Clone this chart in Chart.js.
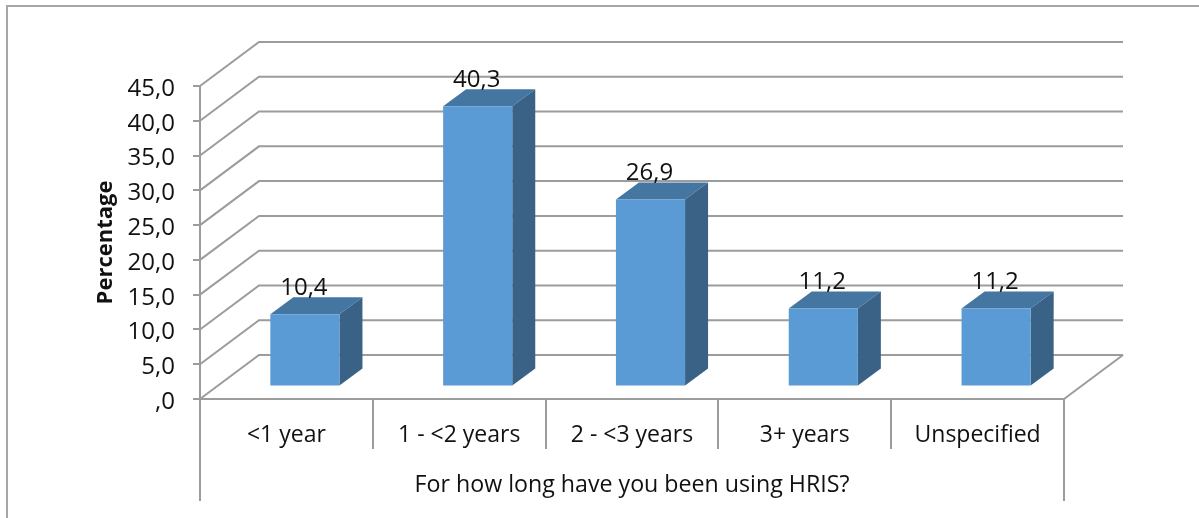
<!DOCTYPE html>
<html>
<head>
<meta charset="utf-8">
<title>HRIS usage</title>
<script src="https://cdn.jsdelivr.net/npm/chart.js@4"></script>
<style>
  body { margin: 0; background: #fff; }
  #wrap { position: relative; width: 1199px; height: 518px; overflow: hidden; }
  #frame { position: absolute; left: 6px; top: 5px; right: -5px; bottom: -5px; border: 2px solid #a6a6a6; border-width: 2px 0 0 2px; }
  canvas { position: absolute; left: 0; top: 0; }
</style>
</head>
<body>
<div id="wrap">
  <div id="frame"></div>
  <canvas id="myChart" width="1199" height="518"></canvas>
</div>
<script>
const categories = ['<1 year', '1 - <2 years', '2 - <3 years', '3+ years', 'Unspecified'];
const percentages = [10.4, 40.3, 26.9, 11.2, 11.2];
const valueLabels = ['10,4', '40,3', '26,9', '11,2', '11,2'];
const yTickLabels = [',0', '5,0', '10,0', '15,0', '20,0', '25,0', '30,0', '35,0', '40,0', '45,0'];

const FONT = '"Open Sans"';
const LINE = '#9c9c9c';
const WALL = { dx: 59, dy: -44 };  // depth of the chart box
const BAR_SHIFT = { dx: 18.5, dy: -12.5 };  // bars stand inside the box
const BAR_DEPTH = { dx: 23, dy: -17 };

// fake 3D box, bars and value labels
const box3d = {
  id: 'box3d',
  beforeDatasetsDraw(chart) {
    const { ctx, chartArea, scales } = chart;
    const bars = chart.getDatasetMeta(0).data;
    ctx.save();
    ctx.strokeStyle = LINE;
    ctx.lineWidth = 2;
    // wall lines
    scales.y.ticks.forEach(t => {
      const y = scales.y.getPixelForValue(t.value);
      ctx.beginPath();
      ctx.moveTo(chartArea.left, y);
      ctx.lineTo(chartArea.left + WALL.dx, y + WALL.dy);
      ctx.lineTo(chartArea.right + WALL.dx, y + WALL.dy);
      ctx.stroke();
    });
    // right edge of the floor
    ctx.beginPath();
    ctx.moveTo(chartArea.right + WALL.dx, chartArea.bottom + WALL.dy);
    ctx.lineTo(chartArea.right, chartArea.bottom);
    ctx.stroke();
    // outer dividers under the axis
    [chartArea.left, chartArea.right].forEach(x => {
      ctx.beginPath();
      ctx.moveTo(x, chartArea.bottom);
      ctx.lineTo(x, 501);
      ctx.stroke();
    });
    // top and side of the bars
    ctx.translate(BAR_SHIFT.dx, BAR_SHIFT.dy);
    bars.forEach(bar => {
      const l = bar.x - bar.width / 2;
      const r = bar.x + bar.width / 2;
      ctx.fillStyle = '#4576a1';
      ctx.beginPath();
      ctx.moveTo(l, bar.y);
      ctx.lineTo(l + BAR_DEPTH.dx, bar.y + BAR_DEPTH.dy);
      ctx.lineTo(r + BAR_DEPTH.dx, bar.y + BAR_DEPTH.dy);
      ctx.lineTo(r, bar.y);
      ctx.closePath();
      ctx.fill();
      ctx.fillStyle = '#396286';
      ctx.beginPath();
      ctx.moveTo(r, bar.y);
      ctx.lineTo(r + BAR_DEPTH.dx, bar.y + BAR_DEPTH.dy);
      ctx.lineTo(r + BAR_DEPTH.dx, bar.base + BAR_DEPTH.dy);
      ctx.lineTo(r, bar.base);
      ctx.closePath();
      ctx.fill();
    });
    ctx.restore();
  },
  beforeDatasetDraw(chart) {
    chart.ctx.save();
    chart.ctx.translate(BAR_SHIFT.dx, BAR_SHIFT.dy);
  },
  afterDatasetDraw(chart) {
    chart.ctx.restore();
  },
  afterDatasetsDraw(chart) {
    const { ctx } = chart;
    ctx.save();
    ctx.font = '24px ' + FONT;
    ctx.fillStyle = '#111';
    ctx.textAlign = 'center';
    ctx.textBaseline = 'middle';
    chart.getDatasetMeta(0).data.forEach((bar, i) => {
      ctx.fillText(valueLabels[i], bar.x + BAR_SHIFT.dx - 1, bar.y + BAR_SHIFT.dy - 26);
    });
    ctx.restore();
  }
};

const ctx = document.getElementById('myChart').getContext('2d');
new Chart(ctx, {
  type: 'bar',
  data: {
    labels: categories,
    datasets: [{
      data: percentages,
      backgroundColor: '#5b9bd5',
      barPercentage: 0.4,
      categoryPercentage: 1
    }]
  },
  plugins: [box3d],
  options: {
    responsive: false,
    animation: false,
    layout: { padding: { top: 86, right: 135 } },
    plugins: { legend: { display: false }, tooltip: { enabled: false } },
    scales: {
      x: {
        afterFit(scale) { scale.height = 119; },
        grid: { offset: true, drawOnChartArea: false, tickLength: 50, color: LINE, lineWidth: 2 },
        border: { color: LINE, width: 2 },
        ticks: { padding: -27, maxRotation: 0, color: '#111', font: { family: FONT, size: 23 } },
        title: {
          display: true,
          text: 'For how long have you been using HRIS?',
          color: '#111',
          font: { family: FONT, size: 23.2 },
          padding: { top: 0, bottom: 19 }
        }
      },
      y: {
        afterFit(scale) { scale.width = 200; },
        min: 0,
        max: 45,
        grid: { drawOnChartArea: false, tickLength: 7, color: LINE, lineWidth: 2 },
        border: { color: LINE, width: 2 },
        ticks: {
          stepSize: 5,
          padding: 18,
          labelOffset: 3,
          color: '#111',
          font: { family: FONT, size: 24 },
          callback: (v, i) => yTickLabels[i]
        },
        title: {
          display: true,
          text: 'Percentage',
          color: '#111',
          font: { family: FONT, size: 22, weight: 'bold' },
          padding: { top: 93, bottom: 0 }
        }
      }
    }
  }
});
</script>
</body>
</html>
